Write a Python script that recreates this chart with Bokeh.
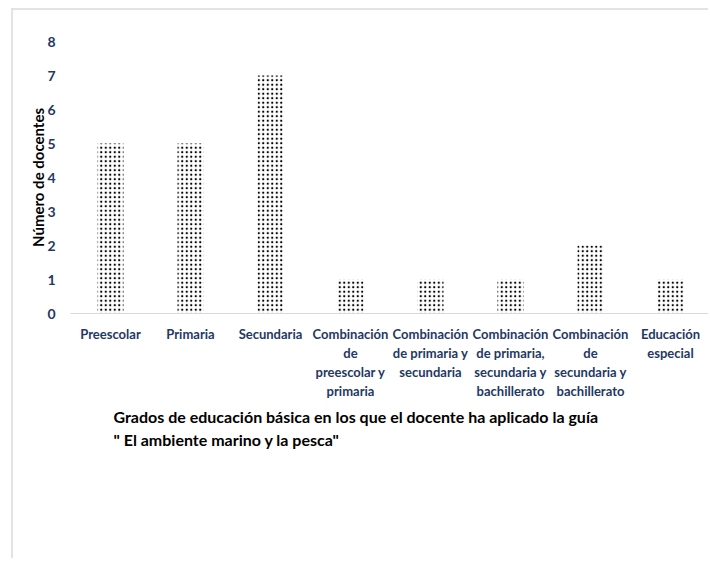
from bokeh.plotting import figure
from bokeh.models import FactorRange, Range1d, SingleIntervalTicker, Title, ColumnDataSource
from bokeh.embed import file_html
from bokeh.resources import INLINE

categories = [
    "Preescolar",
    "Primaria",
    "Secundaria",
    "Combinación\nde\npreescolar y\nprimaria",
    "Combinación\nde primaria y\nsecundaria",
    "Combinación\nde primaria,\nsecundaria y\nbachillerato",
    "Combinación\nde\nsecundaria y\nbachillerato",
    "Educación\nespecial",
]
docentes = [5, 5, 7, 1, 1, 1, 2, 1]
y_label = "Número de docentes"
title_lines = [
    "Grados de educación básica en los que el docente ha aplicado la guía",
    "\" El ambiente marino  y la pesca\"",
]

NAVY = "#1F3864"
FONT = "Lato"

p = figure(
    x_range=FactorRange(factors=categories, range_padding=0),
    y_range=Range1d(0, 8),
    width=697, height=550,
    output_backend="svg", toolbar_location=None,
    min_border_left=57, min_border_right=0, min_border_top=31, min_border_bottom=247,
    styles={"margin-left": "11px", "margin-top": "8px",
            "border-top": "2px solid #e3e3e3", "border-left": "2px solid #e3e3e3"},
)
p.outline_line_color = None
p.xgrid.grid_line_color = None
p.ygrid.grid_line_color = None

src = ColumnDataSource(dict(cat=categories, val=docentes))
p.vbar(x="cat", top="val", width=0.325, source=src,
       fill_color="white", line_color=None,
       hatch_pattern="dot", hatch_color="black", hatch_scale=4.5, hatch_weight=2)

yax = p.yaxis[0]
yax.ticker = SingleIntervalTicker(interval=1)
yax.axis_line_color = None
yax.major_tick_line_color = None
yax.minor_tick_line_color = None
yax.major_label_text_color = NAVY
yax.major_label_text_font = FONT
yax.major_label_text_font_style = "bold"
yax.major_label_text_font_size = "14px"
yax.major_label_standoff = 9
yax.axis_label = y_label
yax.axis_label_text_font = FONT
yax.axis_label_text_font_style = "bold"
yax.axis_label_text_font_size = "15px"
yax.axis_label_text_color = "black"
yax.axis_label_standoff = -3

xax = p.xaxis[0]
xax.axis_line_color = "#D9D9D9"
xax.axis_line_width = 1
xax.major_tick_line_color = None
xax.minor_tick_line_color = None
xax.major_label_text_color = NAVY
xax.major_label_text_font = FONT
xax.major_label_text_font_style = "bold"
xax.major_label_text_font_size = "13px"
xax.major_label_standoff = 6
xax.major_label_orientation = "horizontal"

for i, t in enumerate(title_lines):
    p.add_layout(Title(text=t, align="left", offset=43,
                       text_font=FONT, text_font_style="bold", text_font_size="16px",
                       text_color="black", standoff=4 if i == 0 else 1), "below")

open("out.html", "w").write(file_html(p, INLINE))
